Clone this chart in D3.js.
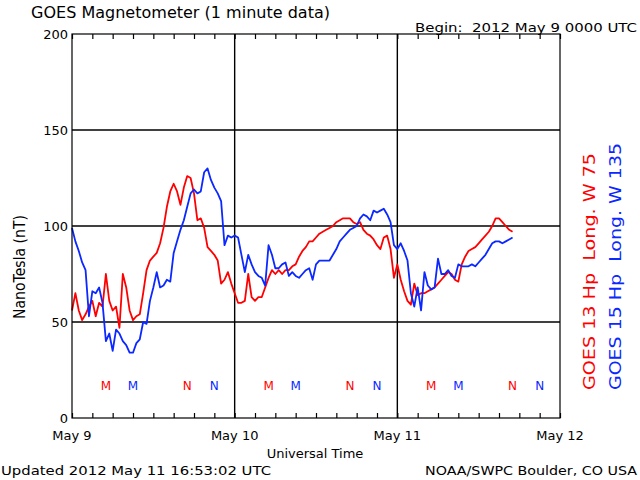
<!DOCTYPE html>
<html>
<head>
<meta charset="utf-8">
<script src="https://cdn.jsdelivr.net/npm/d3@7"></script>
<style>
  html, body { margin: 0; padding: 0; background: #fff; }
  svg text { font-family: "DejaVu Sans", "Liberation Sans", sans-serif; white-space: pre; }
</style>
</head>
<body>
<div id="chart"></div>
<script>
// ---------- data (1 sample every 30 minutes from 2012-05-09 00:00 UTC) ----------
const startTime = Date.UTC(2012, 4, 9, 0, 0);
const stepMinutes = 30;

const goes13Values = [ // GOES 13 Hp (red), nT
  56, 65, 56, 51, 54, 58, 61, 53, 60, 58, 75, 61, 56, 58, 47, 75, 68, 56, 51, 53,
  54, 65, 77, 82, 84, 86, 91, 99, 110, 118, 122, 118, 111, 120, 126, 125, 117, 103, 104, 99,
  89, 87, 85, 82, 70, 72, 76, 70, 65, 60, 60, 61, 75, 63, 61, 63, 63, 68, 73, 77,
  75, 77, 75, 77, 77, 79, 80, 84, 87, 89, 92, 92, 94, 96, 97, 98, 99, 100, 102, 103,
  104, 104, 104, 102, 101, 102, 98, 96, 95, 93, 90, 88, 94, 95, 88, 73, 80, 72, 66, 61,
  59, 70, 64, 65, 65, 66, 67, 68, 70, 72, 74, 76, 75, 72, 71, 80, 84, 87, 88, 89,
  91, 93, 95, 97, 100, 104, 104, 102, 100, 98, 97
];
const goes15Values = [ // GOES 15 Hp (blue), nT
  99, 92, 87, 81, 77, 53, 66, 65, 68, 60, 40, 44, 35, 46, 44, 40, 38, 34, 34, 39,
  41, 50, 49, 61, 68, 76, 68, 69, 72, 71, 86, 92, 98, 103, 110, 117, 119, 117, 118, 128,
  130, 124, 120, 117, 113, 90, 95, 94, 95, 94, 85, 76, 85, 80, 76, 74, 73, 69, 90, 85,
  78, 78, 80, 81, 74, 76, 74, 73, 75, 77, 78, 72, 80, 82, 82, 82, 82, 85, 88, 92,
  94, 96, 98, 99, 100, 104, 106, 105, 103, 108, 107, 108, 109, 106, 102, 90, 88, 91, 87, 82,
  65, 58, 68, 56, 76, 69, 67, 68, 83, 75, 75, 77, 74, 73, 80, 79, 79, 79, 80, 79,
  81, 83, 85, 88, 91, 92, 92, 91, 92, 93, 94
];

const yTicks = [0, 50, 100, 150, 200];
const dayLabels = ["May 9", "May 10", "May 11", "May 12"];
// local midnight (M) and noon (N) markers, hours after start
const redM = [5, 29, 53], redN = [17, 41, 65];
const blueM = [9, 33, 57], blueN = [21, 45, 69];

const titleText = "GOES Magnetometer (1 minute data)";
const beginText = "Begin:  2012 May 9 0000 UTC";
const updatedText = "Updated 2012 May 11 16:53:02 UTC";
const creditText = "NOAA/SWPC Boulder, CO USA";
const redLabel = "GOES 13 Hp  Long. W 75";
const blueLabel = "GOES 15 Hp  Long. W 135";

// ---------- drawing ----------
const W = 640, H = 480;
const RED = "#ff0000", BLUE = "#0a28ff";
const M = { left: 72, right: 560, top: 34, bottom: 418 };

const svg = d3.select("#chart").append("svg").attr("width", W).attr("height", H)
  .style("display", "block");
svg.append("rect").attr("width", W).attr("height", H).attr("fill", "#fff");

const x = d3.scaleUtc()
  .domain([new Date(startTime), new Date(startTime + 72 * 3600e3)])
  .range([M.left, M.right]);
const y = d3.scaleLinear().domain([0, 200]).range([M.bottom, M.top]);
const hoursToDate = h => new Date(startTime + h * 3600e3);

// gridlines
const grid = svg.append("g").attr("stroke", "#000").attr("stroke-width", 1.4);
[50, 100, 150].forEach(v => grid.append("line")
  .attr("x1", M.left).attr("x2", M.right).attr("y1", y(v)).attr("y2", y(v)));
[24, 48].forEach(h => grid.append("line")
  .attr("x1", x(hoursToDate(h))).attr("x2", x(hoursToDate(h))).attr("y1", M.top).attr("y2", M.bottom));

// series
const line = d3.line()
  .x((d, i) => x(new Date(startTime + i * stepMinutes * 60e3)))
  .y(d => y(d));
svg.append("path").datum(goes13Values).attr("d", line)
  .attr("fill", "none").attr("stroke", RED).attr("stroke-width", 1.8).attr("stroke-linejoin", "round");
svg.append("path").datum(goes15Values).attr("d", line)
  .attr("fill", "none").attr("stroke", BLUE).attr("stroke-width", 1.8).attr("stroke-linejoin", "round");

// frame
svg.append("rect").attr("x", M.left).attr("y", M.top).attr("width", M.right - M.left).attr("height", M.bottom - M.top)
  .attr("fill", "none").attr("stroke", "#000").attr("stroke-width", 1.2);

// axes with d3
const tickVals = d3.range(0, 73, 3).map(hoursToDate);
const xBottom = d3.axisBottom(x).tickValues(tickVals).tickSize(-5).tickFormat("");
const xTop = d3.axisTop(x).tickValues(tickVals).tickSize(-5).tickFormat("");
const gB = svg.append("g").attr("transform", `translate(0,${M.bottom})`).call(xBottom);
const gT = svg.append("g").attr("transform", `translate(0,${M.top})`).call(xTop);
[gB, gT].forEach(g => { g.select(".domain").remove(); g.selectAll("line").attr("stroke", "#000").attr("stroke-width", 1.2); });

const yAxis = d3.axisLeft(y).tickValues(yTicks).tickSize(0).tickPadding(4);
const gY = svg.append("g").attr("transform", `translate(${M.left},0)`).call(yAxis);
gY.select(".domain").remove();
gY.selectAll("text").attr("font-size", 13).attr("fill", "#000")
  .style("font-family", "DejaVu Sans, sans-serif");

// day labels
svg.append("g").selectAll("text").data(dayLabels).join("text")
  .attr("x", (d, i) => x(hoursToDate(24 * i))).attr("y", 440)
  .attr("text-anchor", "middle").attr("font-size", 13).text(d => d);

svg.append("text").attr("x", 315).attr("y", 458).attr("text-anchor", "middle")
  .attr("font-size", 13).text("Universal Time");

// titles
svg.append("text").attr("x", 31).attr("y", 18).attr("font-size", 15)
  .attr("textLength", 299).attr("lengthAdjust", "spacingAndGlyphs").text(titleText);
svg.append("text").attr("x", 415).attr("y", 32).attr("font-size", 13)
  .attr("textLength", 222).attr("lengthAdjust", "spacingAndGlyphs").text(beginText);
svg.append("text").attr("x", 1).attr("y", 475).attr("font-size", 13)
  .attr("textLength", 270).attr("lengthAdjust", "spacingAndGlyphs").text(updatedText);
svg.append("text").attr("x", 425).attr("y", 475).attr("font-size", 13)
  .attr("textLength", 212).attr("lengthAdjust", "spacingAndGlyphs").text(creditText);

// y-axis title
svg.append("text").attr("transform", "translate(25,267) rotate(-90)")
  .attr("text-anchor", "middle").attr("font-size", 16)
  .attr("textLength", 104).attr("lengthAdjust", "spacingAndGlyphs").text("NanoTesla (nT)");

// right labels
svg.append("text").attr("transform", "translate(595,390) rotate(-90)")
  .attr("font-size", 16).attr("fill", RED)
  .attr("textLength", 237).attr("lengthAdjust", "spacingAndGlyphs").text(redLabel);
svg.append("text").attr("transform", "translate(621,390) rotate(-90)")
  .attr("font-size", 16).attr("fill", BLUE)
  .attr("textLength", 247).attr("lengthAdjust", "spacingAndGlyphs").text(blueLabel);

// M / N markers
const markers = [];
redM.forEach(h => markers.push({h, t: "M", c: RED}));
redN.forEach(h => markers.push({h, t: "N", c: RED}));
blueM.forEach(h => markers.push({h, t: "M", c: BLUE}));
blueN.forEach(h => markers.push({h, t: "N", c: BLUE}));
svg.append("g").selectAll("text").data(markers).join("text")
  .attr("x", d => x(hoursToDate(d.h))).attr("y", 390)
  .attr("text-anchor", "middle").attr("font-size", 12).attr("fill", d => d.c)
  .text(d => d.t);
</script>
</body>
</html>
